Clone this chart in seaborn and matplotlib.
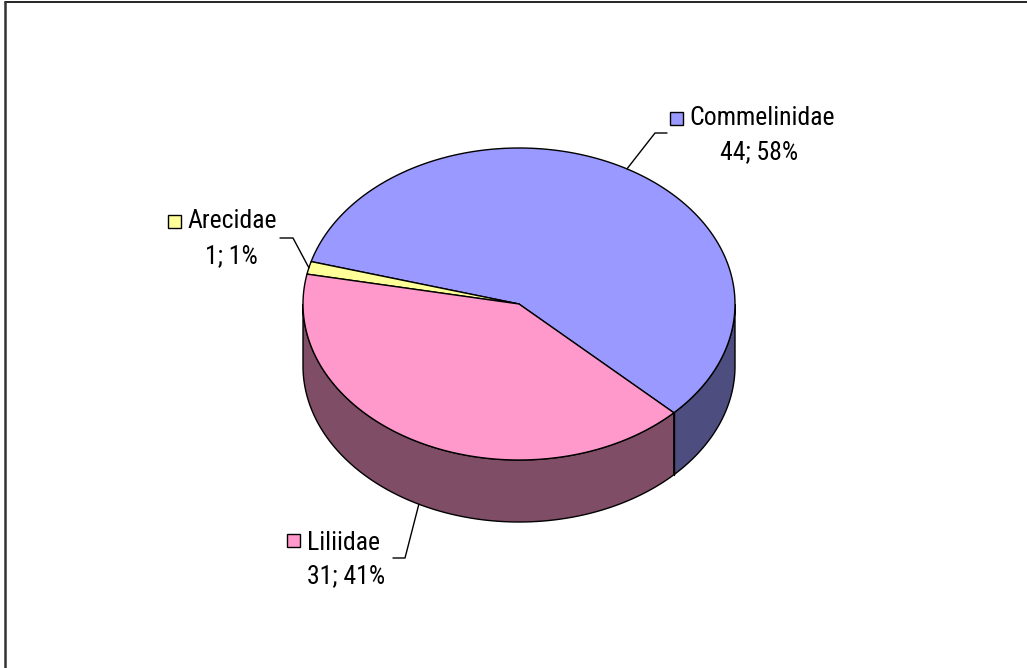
import numpy as np
import matplotlib
matplotlib.use("Agg")
import matplotlib.pyplot as plt
from matplotlib.patches import Polygon, Rectangle
from matplotlib import font_manager
from matplotlib.font_manager import FontProperties
import seaborn as sns

# ---- data ----
categories = ["Commelinidae", "Arecidae", "Liliidae"]
values = [44, 1, 31]
top_colors = ["#9999FF", "#FFFF99", "#FF99CC"]
side_colors = ["#4D4D80", "#80804D", "#804D66"]

sns.set_theme(style="white")
plt.rcParams["font.family"] = ["Liberation Sans", "DejaVu Sans"]

# pick a narrow / condensed sans font if one is installed
def is_narrow(f):
    st = str(f.stretch).lower()
    return ("narrow" in f.name.lower() or "condensed" in f.name.lower()
            or "condensed" in st or "narrow" in st
            or "condensed" in f.fname.lower() or "narrow" in f.fname.lower())

cands = [f for f in font_manager.fontManager.ttflist
         if is_narrow(f) and f.weight in (400, "normal", "regular")
         and f.style == "normal"]
def rank(f):
    n = (f.name + f.fname).lower()
    if "liberation" in n:
        return 0
    if "arial" in n:
        return 1
    if "noto" in n or "roboto" in n or "open" in n:
        return 2
    if "dejavu" in n:
        return 3
    return 4
cands.sort(key=rank)
if cands:
    fp = FontProperties(fname=cands[0].fname)
    fs = 18.5
else:
    fp = FontProperties(family=["Liberation Sans", "DejaVu Sans"])
    fs = 17

W, H = 1027, 668
fig = plt.figure(figsize=(W / 100, H / 100), dpi=100)
ax = fig.add_axes([0, 0, 1, 1])
ax.set_xlim(0, W)
ax.set_ylim(H, 0)
ax.axis("off")

# layout
cx, cy, a, b, depth = 519, 304, 216, 156, 62
start = -44.2  # first slice angle (deg, counter-clockwise)
lw = 1.0

total = sum(values)
spans = [v / total * 360 for v in values]
bounds = []
t = start
for s in spans:
    bounds.append((t, t + s))
    t += s


def pt(theta, dz=0.0):
    r = np.radians(theta)
    return cx + a * np.cos(r), cy - b * np.sin(r) + dz


def arc(t0, t1, dz=0.0, n=200):
    th = np.linspace(t0, t1, n)
    r = np.radians(th)
    return np.column_stack([cx + a * np.cos(r), cy - b * np.sin(r) + dz])


# side walls (front half: 180..360 deg)
for (t0, t1), sc in zip(bounds, side_colors):
    t0n = t0 % 360
    t1n = t0n + (t1 - t0)
    for lo, hi in [(180, 360), (540, 720)]:
        s0, s1 = max(t0n, lo), min(t1n, hi)
        if s1 > s0:
            top = arc(s0, s1)
            bot = arc(s1, s0, depth)
            ax.add_patch(Polygon(np.vstack([top, bot]), closed=True,
                                 facecolor=sc, edgecolor="black", lw=lw, zorder=2))

# visible vertical edges at slice boundaries
for t0, _ in bounds:
    tn = t0 % 360
    if 180 < tn < 360:
        x, y = pt(tn)
        ax.plot([x, x], [y, y + depth], color="black", lw=lw, zorder=3)

# top wedges
for (t0, t1), tc in zip(bounds, top_colors):
    pts = np.vstack([[cx, cy], arc(t0, t1)])
    ax.add_patch(Polygon(pts, closed=True, facecolor=tc, edgecolor="black",
                         lw=lw, zorder=4, joinstyle="round"))

# labels with leader lines
label_layout = {
    "Commelinidae": dict(box=(670, 112), name=(689, 118), val=(759, 152),
                         elbow=[(655, 133), (667, 133)]),
    "Arecidae": dict(box=(168, 215), name=(187, 221), val=(231, 256),
                     elbow=[(293, 238), (280, 238)]),
    "Liliidae": dict(box=(287, 534), name=(307, 543), val=(346, 576),
                     elbow=[(405, 558), (393, 558)]),
}
for cat, v, (t0, t1), tc in zip(categories, values, bounds, top_colors):
    L = label_layout[cat]
    mid = (t0 + t1) / 2
    x, y = pt(mid)
    if np.sin(np.radians(mid)) < 0:
        y += depth
    xs = [x] + [p[0] for p in L["elbow"]]
    ys = [y] + [p[1] for p in L["elbow"]]
    ax.plot(xs, ys, color="black", lw=lw, zorder=5)
    ax.add_patch(Rectangle(L["box"], 13, 13, facecolor=tc, edgecolor="black",
                           lw=lw, zorder=5))
    ax.text(*L["name"], cat, ha="left", va="center", fontproperties=fp,
            fontsize=fs, color="black")
    pct = round(v / total * 100)
    ax.text(*L["val"], f"{v}; {pct}%", ha="center", va="center",
            fontproperties=fp, fontsize=fs, color="black")

# frame lines
ax.plot([5, W], [2, 2], color="black", lw=1.2, zorder=6)
ax.plot([5, 5], [2, H], color="#333333", lw=1.8, zorder=6)

fig.savefig("out.png", dpi=100)
